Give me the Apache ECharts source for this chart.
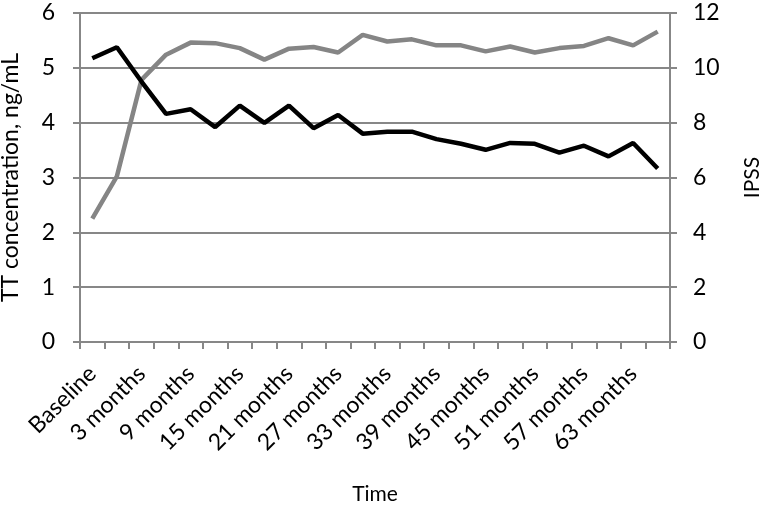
<!DOCTYPE html>
<html>
<head>
<meta charset="UTF-8">
<title></title>
<style>
  html, body { margin: 0; padding: 0; background: #fff; }
</style>
</head>
<body>
<div id="box" style="width: 764px;height: 507px;"></div>
<script src="https://cdn.jsdelivr.net/npm/echarts@6/dist/echarts.min.js"></script>
<script type="text/javascript">
// time points (every 3 months, one early visit between baseline and 3 months)
const categories = ['Baseline', '1 month', '3 months', '6 months', '9 months', '12 months',
  '15 months', '18 months', '21 months', '24 months', '27 months', '30 months',
  '33 months', '36 months', '39 months', '42 months', '45 months', '48 months',
  '51 months', '54 months', '57 months', '60 months', '63 months', '66 months'];

// TT concentration, ng/mL (left axis, grey line)
const ttValues = [2.25, 3.02, 4.78, 5.24, 5.46, 5.45, 5.36, 5.15, 5.35, 5.38, 5.28, 5.60,
  5.48, 5.52, 5.41, 5.41, 5.30, 5.39, 5.28, 5.36, 5.40, 5.54, 5.41, 5.66];

// IPSS (right axis, black line)
const ipssValues = [10.35, 10.75, 9.5, 8.32, 8.49, 7.84, 8.62, 7.99, 8.62, 7.80, 8.28, 7.60,
  7.67, 7.67, 7.40, 7.23, 7.01, 7.26, 7.23, 6.91, 7.16, 6.77, 7.26, 6.33];

const font = 'Lato';
const axisGrey = '#878787';

const myChart = echarts.init(document.getElementById('box'));

const option = {
    animation: false,
    textStyle: { fontFamily: font },
    grid: { left: 80, right: 94, top: 13, bottom: 165, outerBoundsMode: 'none', containLabel: false },
    xAxis: {
        type: 'category',
        data: categories,
        boundaryGap: true,
        name: 'Time',
        nameLocation: 'middle',
        nameGap: 142,
        nameTextStyle: { fontFamily: font, fontSize: 21, color: '#000' },
        axisLine: { lineStyle: { color: axisGrey, width: 2 } },
        axisTick: { show: true, interval: 0, length: 7, lineStyle: { color: axisGrey, width: 2 } },
        axisLabel: {
            interval: 1,
            rotate: 45,
            margin: 28,
            fontFamily: font,
            fontSize: 23,
            color: '#000'
        }
    },
    yAxis: [{
        type: 'value',
        min: 0,
        max: 6,
        interval: 1,
        name: 'TT concentration, ng/mL',
        nameLocation: 'middle',
        nameGap: 58,
        nameTextStyle: { fontFamily: font, fontSize: 23, color: '#000' },
        axisLine: { show: true, lineStyle: { color: axisGrey, width: 2 } },
        axisTick: { show: true, length: 7, lineStyle: { color: axisGrey, width: 2 } },
        axisLabel: { margin: 25, fontFamily: font, fontSize: 23, color: '#000' },
        splitLine: { show: true, lineStyle: { color: axisGrey, width: 2 } }
    }, {
        type: 'value',
        min: 0,
        max: 12,
        interval: 2,
        position: 'right',
        name: 'IPSS',
        nameLocation: 'middle',
        nameGap: 72,
        nameRotate: 90,
        nameTextStyle: { fontFamily: font, fontSize: 21, color: '#000' },
        axisLine: { show: true, lineStyle: { color: axisGrey, width: 2 } },
        axisTick: { show: true, length: 7, lineStyle: { color: axisGrey, width: 2 } },
        axisLabel: { margin: 23, fontFamily: font, fontSize: 23, color: '#000' },
        splitLine: { show: false }
    }],
    series: [{
        name: 'TT concentration',
        type: 'line',
        yAxisIndex: 0,
        data: ttValues,
        symbol: 'none',
        lineStyle: { color: '#858585', width: 4.5 }
    }, {
        name: 'IPSS',
        type: 'line',
        yAxisIndex: 1,
        data: ipssValues,
        symbol: 'none',
        lineStyle: { color: '#000', width: 4.5 }
    }]
};

myChart.setOption(option);
</script>
</body>
</html>
